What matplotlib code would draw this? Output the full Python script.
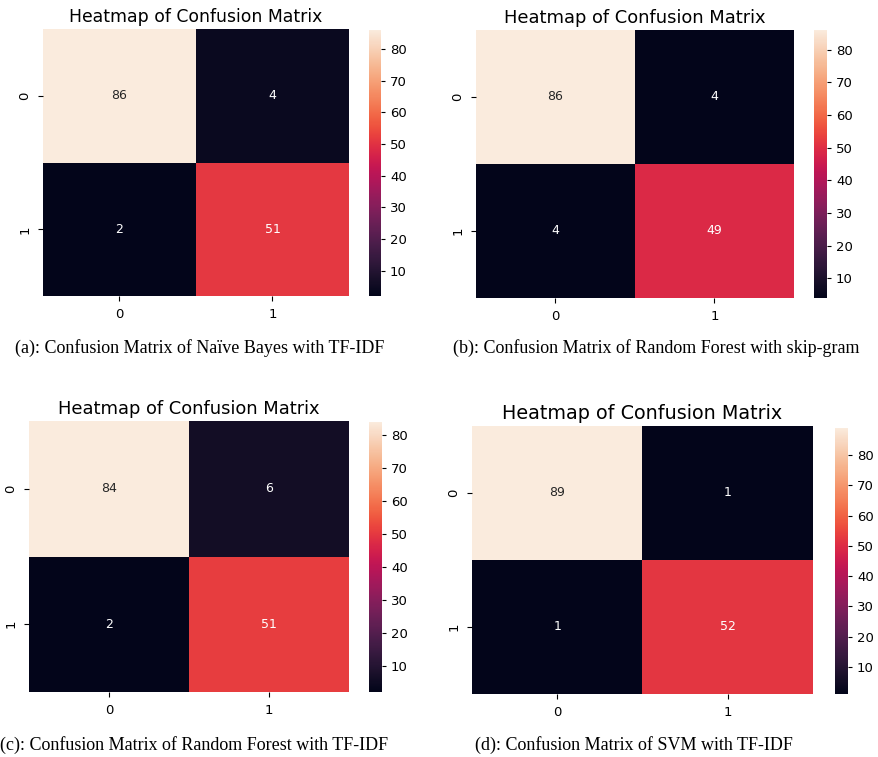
import matplotlib
matplotlib.use("Agg")
import matplotlib.pyplot as plt
import numpy as np
import seaborn as sns

# confusion matrices
cm_nb_tfidf = [[86, 4], [2, 51]]
cm_rf_skipgram = [[86, 4], [4, 49]]
cm_rf_tfidf = [[84, 6], [2, 51]]
cm_svm_tfidf = [[89, 1], [1, 52]]

class_labels = ["0", "1"]
cbar_ticks = [10, 20, 30, 40, 50, 60, 70, 80]

captions = [
    "(a): Confusion Matrix of Naïve Bayes with TF-IDF",
    "(b): Confusion Matrix of Random Forest with skip-gram",
    "(c): Confusion Matrix of Random Forest with TF-IDF",
    "(d): Confusion Matrix of SVM with TF-IDF",
]

W, H = 879, 757
fig = plt.figure(figsize=(W / 100, H / 100), dpi=100)


def box(x0, y0, x1, y1):
    # pixel box (top-left origin) -> figure fraction
    return [x0 / W, 1 - y1 / H, (x1 - x0) / W, (y1 - y0) / H]


## panel layout in pixels: heatmap box, colorbar box, caption position, title size
panels = [
    (cm_nb_tfidf, (43, 29, 349, 296), (369, 30, 381, 296), (15, 348), 12.4),
    (cm_rf_skipgram, (476, 30, 794, 298), (814, 30, 827, 298), (453, 348), 12.9),
    (cm_rf_tfidf, (29, 421, 349, 692), (369, 422, 382, 692), (0, 745), 12.9),
    (cm_svm_tfidf, (472, 426, 813, 694), (835, 428, 848, 694), (475, 745), 13.8),
]

for (cm, hbox, cbox, cap_pos, tsize), caption in zip(panels, captions):
    ax = fig.add_axes(box(*hbox))
    cax = fig.add_axes(box(*cbox))
    sns.heatmap(np.array(cm), annot=True, fmt="d", ax=ax, cbar_ax=cax,
                xticklabels=class_labels, yticklabels=class_labels,
                annot_kws={"fontsize": 9})
    ax.set_title("Heatmap of Confusion Matrix", fontsize=tsize, pad=5)
    ax.tick_params(labelsize=9.5, pad=5)
    plt.setp(ax.get_yticklabels(), rotation=90, va="center")
    cax.set_yticks(cbar_ticks)
    cax.tick_params(labelsize=9.5, length=3)
    fig.text(cap_pos[0] / W, 1 - cap_pos[1] / H, caption,
             family="Liberation Serif", fontsize=13, va="center", ha="left")

plt.savefig("out.png", dpi=100)
